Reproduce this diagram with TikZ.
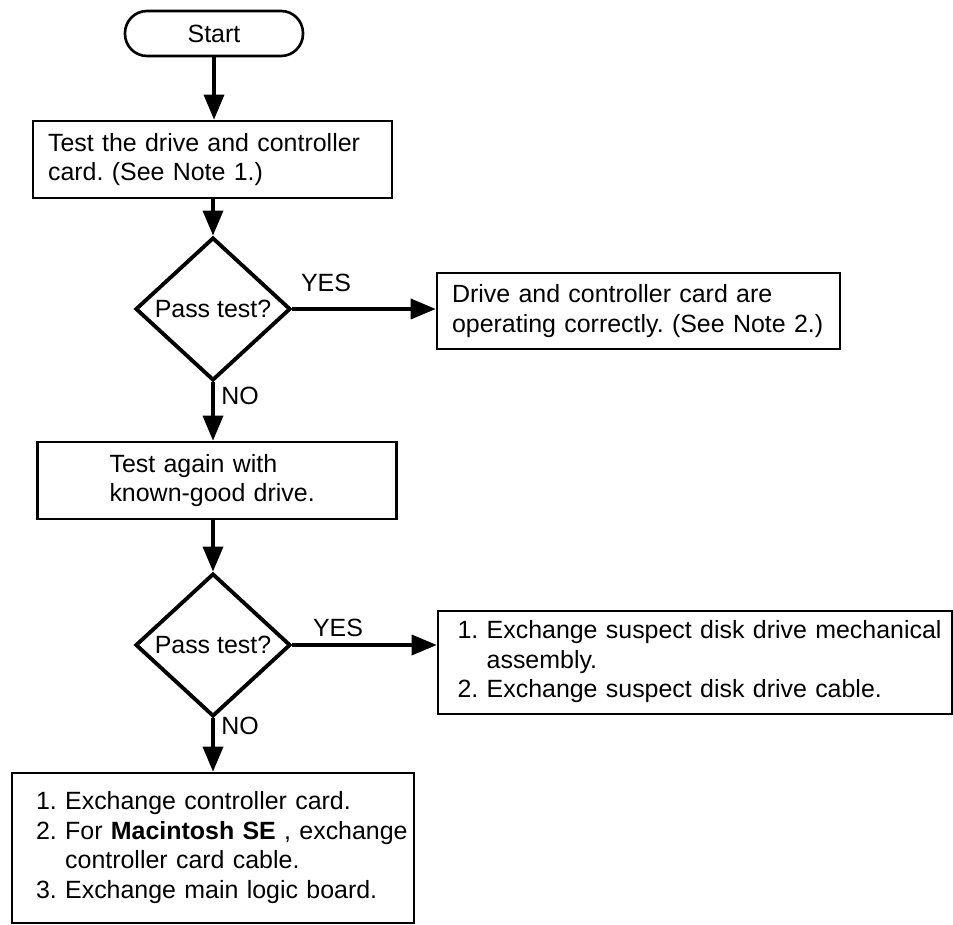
\documentclass[tikz,border=0pt]{standalone}
\usepackage{fontspec}
\setmainfont{Liberation Sans}
\usepackage{tikz}
\usetikzlibrary{arrows.meta,shapes.geometric}
\setlength{\parindent}{0pt}
\frenchspacing

\begin{document}
\begin{tikzpicture}[x=0.02cm, y=-0.02cm,
    every node/.style={font=\fontsize{14.2}{16.8}\selectfont},
    startbox/.style={draw, line width=1.5pt, rounded corners=0.44cm, minimum width=3.56cm, minimum height=0.9cm},
    box/.style={draw, line width=1.5pt, align=left, inner ysep=0pt},
    decision/.style={draw, diamond, line width=2.2pt, inner sep=0pt, minimum width=3.1cm, minimum height=2.86cm},
    flow/.style={-{Triangle[length=0.5cm, width=0.4cm]}, line width=2pt}]
    \useasboundingbox (0,0) rectangle (953,925);
    \node [startbox] (start) at (214,33.5) {Start};
    \node [box, text width=6.58cm, inner xsep=0.3cm, minimum height=1.54cm] (testcard) at (212.5,159.5) {Test the drive and controller\\card. (See Note 1.)};
    \node [decision] (pass1) at (213,309) {Pass test?};
    \node [box, text width=7.46cm, inner xsep=0.3cm, minimum height=1.52cm] (cardok) at (638.5,311) {Drive and controller card are\\operating correctly. (See Note 2.)};
    \node [box, text width=4.3cm, inner xsep=1.44cm, minimum height=1.54cm] (testdrive) at (217,480.5) {Test again with\\known-good drive.};
    \node [decision] (pass2) at (213,645) {Pass test?};
    \node [box, text width=9.5cm, inner xsep=0.39cm, minimum height=2.06cm] (swapdrive) at (695,662.5) {\begin{tabular}{@{}l@{ }l@{}}
        1. & Exchange suspect disk drive mechanical\\
           & assembly.\\
        2. & Exchange suspect disk drive cable.
      \end{tabular}};
    \node [box, text width=7.08cm, inner xsep=0.48cm, minimum height=3cm] (swapcard) at (213,848) {\begin{tabular}{@{}l@{ }l@{}}
        1. & Exchange controller card.\\
        2. & For \textbf{Macintosh SE} , exchange\\
           & controller card cable.\\
        3. & Exchange main logic board.
      \end{tabular}};
    \node (yes1) at (326,283) {YES};
    \node (no1) at (240,396) {NO};
    \node (yes2) at (338,628) {YES};
    \node (no2) at (240,726) {NO};
    \draw [flow] (start.south) -- (start.south |- testcard.north);
    \draw [flow] (testcard.south -| pass1.north) -- (pass1.north);
    \draw [flow] (pass1.east) -- (pass1.east -| cardok.west);
    \draw [flow] (pass1.south) -- (pass1.south |- testdrive.north);
    \draw [flow] (testdrive.south -| pass2.north) -- (pass2.north);
    \draw [flow] (pass2.east) -- (pass2.east -| swapdrive.west);
    \draw [flow] (pass2.south) -- (pass2.south |- swapcard.north);
\end{tikzpicture}
\end{document}
